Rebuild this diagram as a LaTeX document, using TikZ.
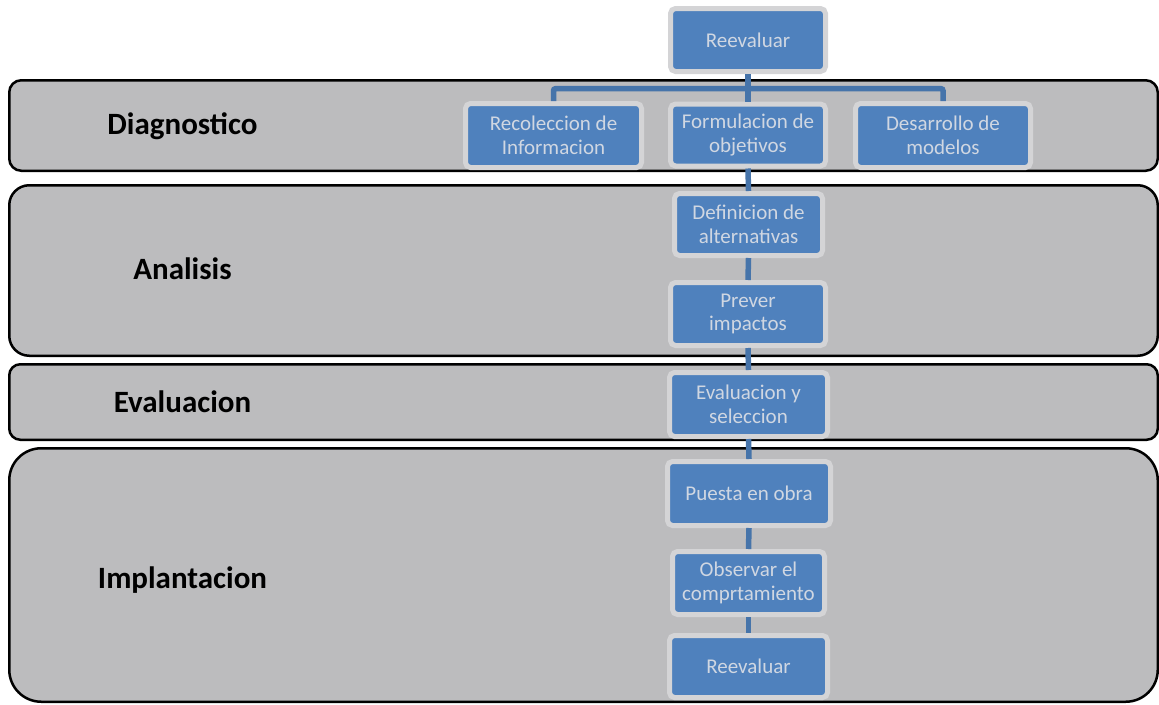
\documentclass[tikz,border=0pt]{standalone}
\usepackage{fontspec}
\setmainfont{Carlito}
\definecolor{bandgray}{RGB}{188,188,190}
\definecolor{boxblue}{RGB}{79,129,189}
\definecolor{boxrim}{RGB}{212,212,214}
\definecolor{linkblue}{RGB}{70,116,170}
\definecolor{boxtext}{RGB}{208,215,226}
\begin{document}
\begin{tikzpicture}[x=1pt,y=-1pt,
  band/.style={draw=black, line width=2.5pt, fill=bandgray},
  stepnode/.style={draw=boxrim, line width=5pt, fill=boxblue, rounded corners=5pt,
    text=boxtext, font=\fontsize{21}{23.5}\selectfont, align=center, inner sep=0pt},
  lab/.style={font=\fontsize{31}{36}\selectfont\bfseries, anchor=base, inner sep=0pt},
  link/.style={draw=linkblue, line width=5.5pt}]
\useasboundingbox (0,0) rectangle (1159,704);
% bands
\draw[band, rounded corners=12pt] (9.25,80.25) rectangle (1157.75,170.75);
\draw[band, rounded corners=20pt] (9.25,185.25) rectangle (1157.75,355.75);
\draw[band, rounded corners=11pt] (9.25,364.25) rectangle (1157.75,439.75);
\draw[band, rounded corners=32pt] (9.25,448.25) rectangle (1157.75,701.75);
% band labels
\node[lab] (ldiag) at (182.5,134.5) {Diagnostico};
\node[lab] (lanal) at (182.5,279) {Analisis};
\node[lab] (leval) at (182.5,412) {Evaluacion};
\node[lab] (limpl) at (182.5,588) {Implantacion};
% step boxes
\node[stepnode, minimum width=155, minimum height=63] (top) at (748,40) {Reevaluar};
\node[stepnode, minimum width=176, minimum height=64] (rec) at (553.5,135.5) {Recoleccion de\\Informacion};
\node[stepnode, minimum width=155, minimum height=62] (form) at (748,135) {Formulacion de\\objetivos};
\node[stepnode, minimum width=175, minimum height=64] (des) at (943,135.5) {Desarrollo de\\modelos};
\node[stepnode, minimum width=148, minimum height=62] (defi) at (748.5,224.5) {Definicion de\\alternativas};
\node[stepnode, minimum width=155, minimum height=63] (prev) at (748,314) {Prever\\impactos};
\node[stepnode, minimum width=158, minimum height=64] (evsel) at (748.5,404.5) {Evaluacion y\\seleccion};
\node[stepnode, minimum width=163, minimum height=64] (puesta) at (749,493.5) {Puesta en obra};
\node[stepnode, minimum width=152, minimum height=63] (obs) at (748.5,583) {Observar el\\comprtamiento};
\node[stepnode, minimum width=158, minimum height=62] (reev) at (748.5,666.5) {Reevaluar};
% connectors
\coordinate (hb) at (748,88.7);
\draw[link] (top.south) -- (form.north);
\draw[link, rounded corners=2pt] (rec.north) |- (hb) -| (des.north);
\draw[link] (form.south) -- (defi.north);
\draw[link] (defi.south) -- (prev.north);
\draw[link] (prev.south) -- (evsel.north);
\draw[link] (evsel.south) -- (puesta.north);
\draw[link] (puesta.south) -- (obs.north);
\draw[link] (obs.south) -- (reev.north);
\end{tikzpicture}
\end{document}
